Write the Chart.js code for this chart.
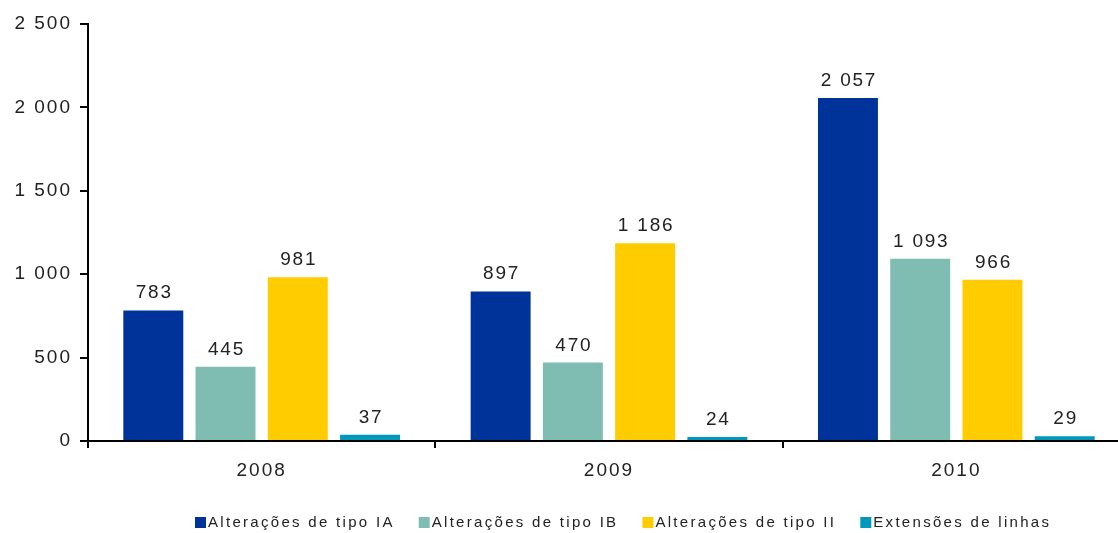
<!DOCTYPE html>
<html>
<head>
<meta charset="utf-8">
<script src="https://cdn.jsdelivr.net/npm/chart.js@4/dist/chart.umd.min.js"></script>
<style>
  html, body { margin: 0; padding: 0; background: #fff; overflow: hidden; }
  #wrap { position: relative; width: 1130px; height: 533px; }
</style>
</head>
<body>
<div id="wrap"><canvas id="chart"></canvas></div>
<script>
var years = ['2008', '2009', '2010'];
var tipoIA = [783, 897, 2057];
var tipoIB = [445, 470, 1093];
var tipoII = [981, 1186, 966];
var extensoes = [37, 24, 29];
var seriesNames = ['Alterações de tipo IA', 'Alterações de tipo IB', 'Alterações de tipo II', 'Extensões de linhas'];
var seriesColors = ['#003399', '#7fbdb2', '#ffcc00', '#0099bb'];
var yTicks = [0, 500, 1000, 1500, 2000, 2500];

var FONT = '"Liberation Sans", Arial, sans-serif';

function fmt(v) {
    return String(v).replace(/\B(?=(\d{3})+(?!\d))/g, ' ');
}

// the original text is spaced out a bit (pdf export look)
var spacing = {
    id: 'spacing',
    beforeDraw: function (chart) {
        chart.ctx.letterSpacing = '2px';
    }
};

// value labels above each bar
var valueLabels = {
    id: 'valueLabels',
    afterDatasetsDraw: function (chart) {
        var ctx = chart.ctx;
        ctx.save();
        ctx.font = '19px ' + FONT;
        ctx.letterSpacing = '1.8px';
        ctx.fillStyle = '#222';
        ctx.textAlign = 'center';
        ctx.textBaseline = 'alphabetic';
        chart.data.datasets.forEach(function (ds, i) {
            var meta = chart.getDatasetMeta(i);
            meta.data.forEach(function (bar, j) {
                ctx.fillText(fmt(ds.data[j]), bar.x + 1, bar.y - 12);
            });
        });
        ctx.restore();
    }
};

// legend drawn at the bottom, one row
var bottomLegend = {
    id: 'bottomLegend',
    afterDraw: function (chart) {
        var ctx = chart.ctx;
        ctx.save();
        ctx.font = '15px ' + FONT;
        ctx.letterSpacing = '2.3px';
        ctx.textAlign = 'left';
        ctx.textBaseline = 'middle';
        var x = 195;
        var y = 523;
        chart.data.datasets.forEach(function (ds) {
            ctx.fillStyle = ds.backgroundColor;
            ctx.fillRect(x, y - 6, 11, 11);
            x += 13;
            ctx.fillStyle = '#222';
            ctx.fillText(ds.label, x, y);
            x += ctx.measureText(ds.label).width + 24;
        });
        ctx.restore();
    }
};

Chart.defaults.font.family = FONT;
Chart.defaults.color = '#222';

var ctx = document.getElementById('chart').getContext('2d');
var chart = new Chart(ctx, {
    type: 'bar',
    data: {
        labels: years,
        datasets: [
            { label: seriesNames[0], data: tipoIA, backgroundColor: seriesColors[0] },
            { label: seriesNames[1], data: tipoIB, backgroundColor: seriesColors[1] },
            { label: seriesNames[2], data: tipoII, backgroundColor: seriesColors[2] },
            { label: seriesNames[3], data: extensoes, backgroundColor: seriesColors[3] }
        ]
    },
    options: {
        responsive: true,
        maintainAspectRatio: false,
        animation: false,
        layout: { padding: { top: 24, left: 0, right: 0, bottom: 48 } },
        datasets: {
            bar: { categoryPercentage: 0.832, barPercentage: 0.83 }
        },
        plugins: {
            legend: { display: false },
            tooltip: { enabled: false }
        },
        scales: {
            x: {
                grid: {
                    offset: true,
                    drawOnChartArea: false,
                    drawTicks: true,
                    tickLength: 7,
                    color: '#000',
                    lineWidth: 2
                },
                border: { color: '#000', width: 2 },
                ticks: { font: { size: 19 }, padding: 11, color: '#222' },
                afterFit: function (scale) { scale.height = 44; }
            },
            y: {
                min: 0,
                max: 2500,
                afterBuildTicks: function (scale) {
                    scale.ticks = yTicks.map(function (v) { return { value: v }; });
                },
                grid: {
                    drawOnChartArea: false,
                    drawTicks: true,
                    tickLength: 8,
                    color: '#000',
                    lineWidth: 2
                },
                border: { color: '#000', width: 2 },
                ticks: {
                    font: { size: 19 },
                    padding: 8,
                    color: '#222',
                    callback: function (v) { return fmt(v); }
                },
                afterFit: function (scale) { scale.width = 88; }
            }
        }
    },
    plugins: [spacing, valueLabels, bottomLegend]
});
</script>
</body>
</html>
